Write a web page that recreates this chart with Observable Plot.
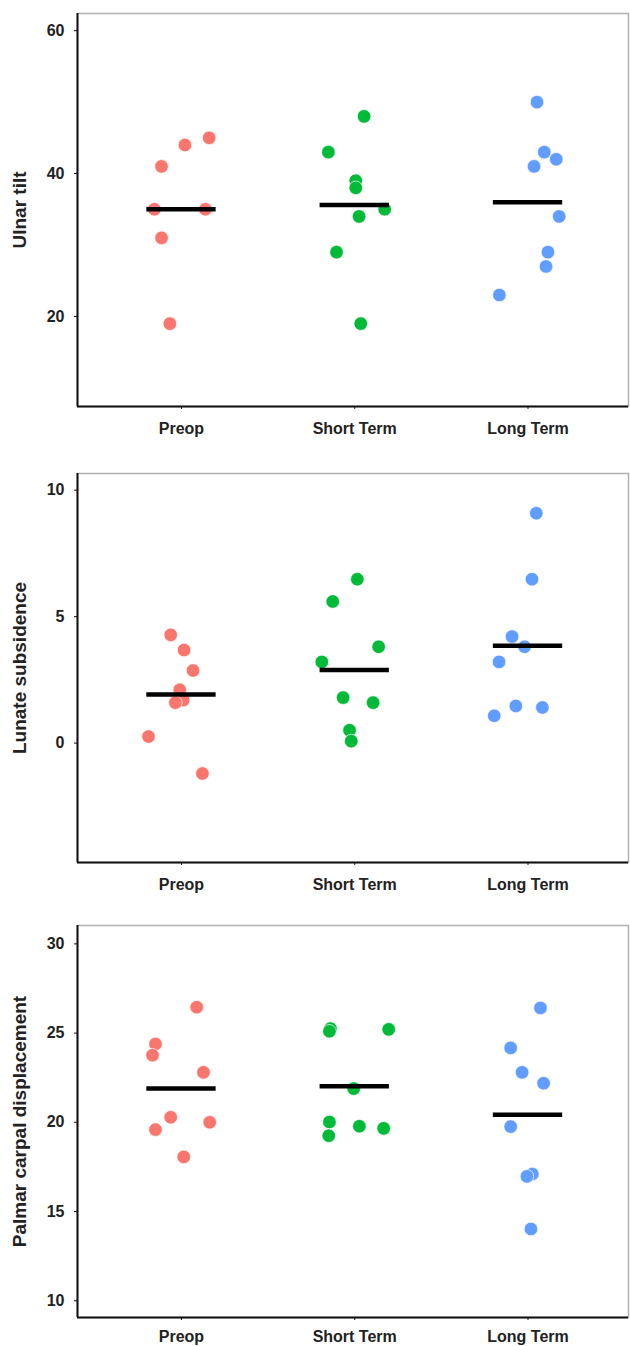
<!DOCTYPE html>
<html>
<head>
<meta charset="utf-8">
<script src="https://cdn.jsdelivr.net/npm/d3@7"></script>
<script src="https://cdn.jsdelivr.net/npm/@observablehq/plot@0.6"></script>
<style>
  html, body { margin: 0; padding: 0; background: #fff; }
  #chart svg { display: block; }
</style>
</head>
<body>
<div id="chart"></div>
<script>
// ---- Data ----
const categories = ["Preop", "Short Term", "Long Term"];
const groupColors = ["#F8766D", "#00BA38", "#619CFF"];

// Panel 1: Ulnar tilt
const ulnarPreop = [45, 44, 41, 35, 35, 31, 19];
const ulnarPreopJitter = [0.16, 0.02, -0.115, -0.156, 0.138, -0.115, -0.067];
const ulnarShort = [48, 43, 39, 38, 35, 34, 29, 19];
const ulnarShortJitter = [0.054, -0.152, 0.006, 0.006, 0.173, 0.025, -0.105, 0.035];
const ulnarLong = [50, 43, 42, 41, 34, 29, 27, 23];
const ulnarLongJitter = [0.052, 0.094, 0.163, 0.035, 0.18, 0.115, 0.104, -0.165];
const ulnarMeans = [35.0, 35.6, 36.0];
const ulnarTicks = [20, 40, 60];

// Panel 2: Lunate subsidence
const lunatePreop = [4.28, 3.68, 2.87, 2.11, 1.70, 1.60, 0.26, -1.20];
const lunatePreopJitter = [-0.062, 0.015, 0.067, -0.01, 0.01, -0.035, -0.19, 0.121];
const lunateShort = [6.48, 5.60, 3.81, 3.21, 1.80, 1.60, 0.51, 0.08];
const lunateShortJitter = [0.015, -0.127, 0.138, -0.19, -0.067, 0.106, -0.03, -0.02];
const lunateLong = [9.09, 6.48, 4.21, 3.81, 3.21, 1.47, 1.41, 1.08];
const lunateLongJitter = [0.048, 0.023, -0.092, -0.02, -0.167, -0.07, 0.083, -0.195];
const lunateMeans = [1.92, 2.89, 3.85];
const lunateTicks = [0, 5, 10];

// Panel 3: Palmar carpal displacement
const palmarPreop = [26.45, 24.39, 23.76, 22.80, 20.28, 20.0, 19.59, 18.06];
const palmarPreopJitter = [0.088, -0.15, -0.167, 0.127, -0.062, 0.163, -0.15, 0.013];
const palmarShort = [25.25, 25.10, 25.21, 21.89, 20.02, 19.78, 19.66, 19.25];
const palmarShortJitter = [-0.14, -0.146, 0.196, -0.006, -0.146, 0.027, 0.167, -0.15];
const palmarLong = [26.41, 24.17, 22.80, 22.19, 19.76, 17.10, 16.97, 14.02];
const palmarLongJitter = [0.072, -0.1, -0.034, 0.09, -0.1, 0.025, -0.006, 0.017];
const palmarMeans = [21.89, 22.02, 20.43];
const palmarTicks = [10, 15, 20, 25, 30];

// ---- Build tables ----
function buildPoints(groups, jitters) {
  const out = [];
  groups.forEach((vals, gi) => {
    vals.forEach((v, k) => out.push({group: categories[gi], gi, value: v, jitter: jitters[gi][k]}));
  });
  return out;
}
function buildMeans(means) {
  return means.map((m, gi) => ({group: categories[gi], gi, mean: m}));
}

const panels = [
  {
    title: "Ulnar tilt",
    points: buildPoints([ulnarPreop, ulnarShort, ulnarLong], [ulnarPreopJitter, ulnarShortJitter, ulnarLongJitter]),
    means: buildMeans(ulnarMeans),
    ticks: ulnarTicks,
    yDomain: [7.4, 62.4],
    height: 445, marginTop: 13, marginBottom: 39, xPad: 13
  },
  {
    title: "Lunate subsidence",
    points: buildPoints([lunatePreop, lunateShort, lunateLong], [lunatePreopJitter, lunateShortJitter, lunateLongJitter]),
    means: buildMeans(lunateMeans),
    ticks: lunateTicks,
    yDomain: [-4.72, 10.66],
    height: 455, marginTop: 28, marginBottom: 38, xPad: 13
  },
  {
    title: "Palmar carpal displacement",
    points: buildPoints([palmarPreop, palmarShort, palmarLong], [palmarPreopJitter, palmarShortJitter, palmarLongJitter]),
    means: buildMeans(palmarMeans),
    ticks: palmarTicks,
    yDomain: [9.06, 31.03],
    height: 446, marginTop: 25, marginBottom: 29, xPad: 10.5
  }
];

const xDomain = [-0.6, 2.58];
const halfWidth = 0.2;
const container = document.getElementById("chart");

for (const p of panels) {
  const svg = Plot.plot({
    width: 630,
    height: p.height,
    marginLeft: 77,
    marginRight: 2,
    marginTop: p.marginTop,
    marginBottom: p.marginBottom,
    style: {fontFamily: "'Liberation Sans', Arial, sans-serif", fontWeight: "bold", color: "#222", background: "#fff"},
    x: {type: "linear", domain: xDomain},
    y: {domain: p.yDomain},
    color: {domain: categories, range: groupColors},
    marks: [
      Plot.frame({stroke: "#b0b0b0", strokeWidth: 1.5}),
      Plot.ruleX([xDomain[0]], {stroke: "#111", strokeWidth: 2}),
      Plot.ruleY([p.yDomain[0]], {stroke: "#111", strokeWidth: 2}),
      Plot.axisY({ticks: p.ticks, tickSize: 3, tickPadding: 10, fontSize: 16, label: null, stroke: "#111"}),
      Plot.axisX({ticks: [0, 1, 2], tickFormat: i => categories[i], tickSize: 3, tickPadding: p.xPad, fontSize: 16, label: null, stroke: "#111"}),
      Plot.text([p.title], {frameAnchor: "left", textAnchor: "middle", lineAnchor: "middle", rotate: -90, dx: -58, fontSize: 19, fontWeight: "bold", fill: "#222"}),
      Plot.dot(p.points, {x: d => d.gi + d.jitter, y: "value", fill: "group", r: 6.8, stroke: "#fff", strokeWidth: 0.7}),
      Plot.ruleY(p.means, {y: "mean", x1: d => d.gi - halfWidth, x2: d => d.gi + halfWidth, stroke: "#000", strokeWidth: 4.5})
    ]
  });
  container.appendChild(svg);
}
</script>
</body>
</html>
